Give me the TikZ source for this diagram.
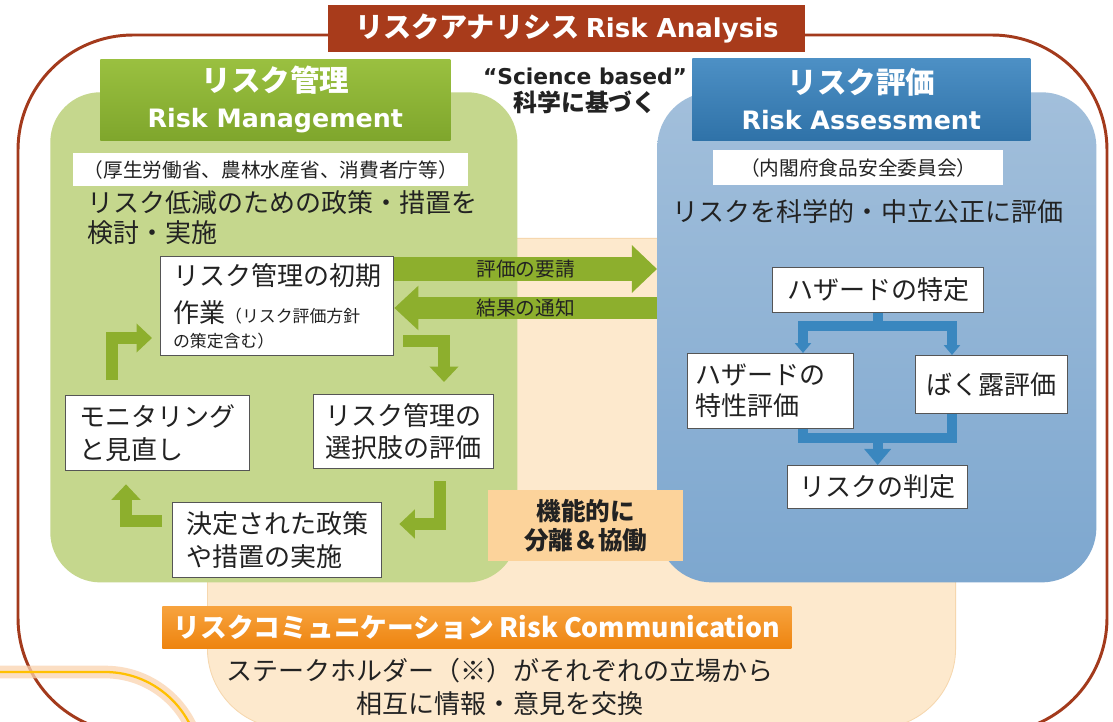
\documentclass[tikz,border=0pt]{standalone}
\usepackage{fontspec}
\setmainfont{Noto Sans CJK JP}
\newfontfamily\lat{DejaVu Sans}
\usetikzlibrary{arrows.meta,calc}
\definecolor{brownT}{HTML}{A83B1B}
\definecolor{brownL}{HTML}{A33A1C}
\definecolor{greenReg}{HTML}{C5D78D}
\definecolor{greenTop}{HTML}{9AC040}
\definecolor{greenBot}{HTML}{7FA62C}
\definecolor{greenArr}{HTML}{8DAF2D}
\definecolor{blueTop}{HTML}{A2BFDB}
\definecolor{blueBot}{HTML}{7DA7CF}
\definecolor{blueHTop}{HTML}{4D90C5}
\definecolor{blueHBot}{HTML}{2F72A8}
\definecolor{blueLine}{HTML}{3A87BF}
\definecolor{peach}{HTML}{FDE9CD}
\definecolor{peachEdge}{HTML}{F6D7AE}
\definecolor{peachDark}{HTML}{FCD39B}
\definecolor{orTop}{HTML}{F7A33E}
\definecolor{orBot}{HTML}{EE840F}
\definecolor{txt}{HTML}{222222}
\definecolor{boxLine}{HTML}{555555}
\definecolor{glow}{HTML}{FAD3B0}
\definecolor{yel}{HTML}{FFC000}
\tikzset{
  wbox/.style={draw=boxLine, line width=0.9pt, fill=white, inner sep=0pt, text=txt, anchor=north west},
  region/.style={inner sep=0pt, anchor=north west},
  garrowL/.style={draw=greenArr, line width=17.1pt, -{Triangle[width=32.7pt,length=17.8pt]}},
  garrowR/.style={draw=greenArr, line width=15.6pt, -{Triangle[width=30.6pt,length=17.1pt]}},
  gsmall/.style={draw=greenArr, line width=8.5pt, -{Triangle[width=20pt,length=11pt]}},
  bline/.style={draw=blueLine, line width=7.1pt},
  btipS/.style={-{Triangle[width=11.4pt,length=7.1pt]}},
  btipB/.style={-{Triangle[width=18.5pt,length=11.4pt]}},
  bodytxt/.style={text=txt, inner sep=0pt, font=\fontsize{18.5}{21.3}\selectfont},
}
\begin{document}
\begin{tikzpicture}[x=0.025cm,y=-0.025cm]
\useasboundingbox (0,0) rectangle (1113,722);
\clip (0,0) rectangle (1113,722);
\fill[white] (0,0) rectangle (1113,722);

% outer risk analysis frame
\draw[draw=brownL, line width=2.1pt, rounded corners=81.8pt] (18,35) rectangle (1107,733);

% risk communication area (peach)
\node[region, fill=peach, draw=peachEdge, line width=0.6pt, rounded corners=56.9pt,
  minimum width={748*0.7113pt}, minimum height={490*0.7113pt}] (rc) at (207,238) {};

% risk management region
\node[region, fill=greenReg, rounded corners=35.6pt,
  minimum width={467*0.7113pt}, minimum height={490*0.7113pt}] (rm) at (50,92) {};
% risk assessment region
\node[region, top color=blueTop, bottom color=blueBot, rounded corners=39pt,
  minimum width={439*0.7113pt}, minimum height={490*0.7113pt}] (ra) at (657,92) {};

% title
\node[region, fill=brownT, text=white, minimum width={477*0.7113pt}, minimum height={47*0.7113pt},
  font=\fontsize{20}{24}\selectfont\bfseries] (title) at (328,5)
  {リスクアナリシス {\lat\fontsize{18.5}{24}\selectfont\bfseries Risk Analysis}};

% headers
\node[region, top color=greenTop, bottom color=greenBot, text=white, align=center,
  minimum width={350*0.7113pt}, minimum height={81*0.7113pt},
  font=\fontsize{21}{25.6}\selectfont\bfseries] (rmh) at (100,59)
  {リスク管理\\{\lat\fontsize{18}{25.6}\selectfont\bfseries Risk Management}};
\node[region, top color=blueHTop, bottom color=blueHBot, text=white, align=center,
  minimum width={338*0.7113pt}, minimum height={82*0.7113pt},
  font=\fontsize{21}{25.6}\selectfont\bfseries] (rah) at (692,58)
  {リスク評価\\{\lat\fontsize{18}{25.6}\selectfont\bfseries Risk Assessment}};

% white strips
\node[region, fill=white, text=txt, minimum width={395*0.7113pt}, minimum height={33*0.7113pt},
  font=\fontsize{14}{16}\selectfont] (rms) at (73,153) {（厚生労働省、農林水産省、消費者庁等）};
\node[region, fill=white, text=txt, minimum width={290*0.7113pt}, minimum height={35*0.7113pt},
  font=\fontsize{14}{16}\selectfont] (ras) at (713,150) {（内閣府食品安全委員会）};

% science based
\node[text=txt, align=center, inner sep=0pt, font=\fontsize{17}{19.2}\selectfont\bfseries] (sci) at (585,91)
  {{\lat\fontsize{15.5}{19.2}\selectfont\bfseries “Science based”}\\科学に基づく};

% body texts
\node[bodytxt, anchor=west, align=left] (rmtxt) at (87,218) {リスク低減のための政策・措置を\\検討・実施};
\node[bodytxt] (ratxt) at (868,212) {リスクを科学的・中立公正に評価};

% left cycle boxes
\node[wbox, align=left, minimum width={233*0.7113pt}, minimum height={99*0.7113pt},
  font=\fontsize{18.5}{26.3}\selectfont] (b1) at (160,256)
  {リスク管理の初期\\作業{\fontsize{12}{14}\selectfont （リスク評価方針}\\[-8.5pt]{\fontsize{12}{14}\selectfont の策定含む）}};
\node[wbox, align=left, minimum width={184*0.7113pt}, minimum height={75*0.7113pt},
  font=\fontsize{18.5}{22.8}\selectfont] (b2) at (65,395) {モニタリング\\と見直し};
\node[wbox, align=left, minimum width={180*0.7113pt}, minimum height={74*0.7113pt},
  font=\fontsize{18.5}{22.8}\selectfont] (b3) at (313,394) {リスク管理の\\選択肢の評価};
\node[wbox, align=left, minimum width={209*0.7113pt}, minimum height={75*0.7113pt},
  font=\fontsize{18.5}{24}\selectfont] (b4) at (172,502) {決定された政策\\や措置の実施};

% right assessment boxes
\node[wbox, minimum width={211*0.7113pt}, minimum height={45*0.7113pt},
  font=\fontsize{18.5}{22}\selectfont] (haz) at (772,267) {ハザードの特定};
\node[wbox, align=left, minimum width={166*0.7113pt}, minimum height={75*0.7113pt},
  font=\fontsize{18.5}{22}\selectfont] (chr) at (687,353) {ハザードの\hspace*{14pt}\\特性評価};
\node[wbox, minimum width={152*0.7113pt}, minimum height={58*0.7113pt},
  font=\fontsize{18.5}{22}\selectfont] (expo) at (915,355) {ばく露評価};
\node[wbox, minimum width={180*0.7113pt}, minimum height={43*0.7113pt},
  font=\fontsize{18.5}{22}\selectfont] (jud) at (787,465) {リスクの判定};

% separation & cooperation box
\node[region, fill=peachDark, text=txt, align=center, minimum width={195*0.7113pt}, minimum height={71*0.7113pt},
  font=\fontsize{17.5}{20.6}\selectfont\bfseries] (sep) at (488,490) {機能的に\\分離＆協働};

% risk communication band
\node[region, top color=orTop, bottom color=orBot, text=white,
  minimum width={629*0.7113pt}, minimum height={42*0.7113pt},
  font=\fontsize{19}{22}\selectfont\bfseries] (rcb) at (162,606)
  {リスクコミュニケーション Risk Communication};
\node[text=txt, align=center, inner sep=0pt, font=\fontsize{18.5}{23.5}\selectfont] (rct) at (500,687)
  {ステークホルダー（※）がそれぞれの立場から\\相互に情報・意見を交換};

% helper coordinates
\coordinate (yreq) at (0,269);
\coordinate (yres) at (0,308);
\coordinate (yA) at (0,338);
\coordinate (yB) at (0,341);
\coordinate (yC) at (0,524);
\coordinate (yD) at (0,521);
\coordinate (xl) at (803,0);
\coordinate (xr) at (952,0);
\coordinate (ytop) at (0,326);
\coordinate (ybot) at (0,438);

% big arrows between management and assessment
\draw[garrowL] (b1.east |- yreq) -- (ra.west |- yreq)
  node[midway, text=txt, inner sep=0pt, font=\fontsize{14}{16}\selectfont] (lreq) {評価の要請};
\draw[garrowR] (ra.west |- yres) -- (b1.east |- yres)
  node[midway, text=txt, inner sep=0pt, font=\fontsize{14}{16}\selectfont] (lres) {結果の通知};

% small cycle arrows
\draw[gsmall] ($(b2.north west)+(47,-15)$) |- ($(b1.west |- yA)+(-8,0)$);
\draw[gsmall] ($(b1.east |- yB)+(9,0)$) -| ($(b3.north west)+(131,-12)$);
\draw[gsmall] ($(b3.south west)+(127,12)$) |- ($(b4.east |- yC)+(17,0)$);
\draw[gsmall] ($(b4.west |- yD)+(-10,0)$) -| ($(b2.south west)+(61,13)$);

% blue flow connectors
\draw[bline] (haz.south) -- (haz.south |- ytop);
\draw[bline, btipS] (haz.south |- ytop) -| (chr.north -| xl);
\draw[bline, btipS] (haz.south |- ytop) -| (expo.north -| xr);
\draw[bline] (chr.south -| xl) -- (xl |- ybot) -- (xr |- ybot) -- (expo.south -| xr);
\draw[bline, btipB] (jud.north |- ybot) -- (jud.north);

% glowing yellow curve (bottom left)
\draw[glow, line width=9pt, opacity=0.75, rounded corners=67.6pt] (-10,672) -- (200,672) -- (200,800);
\draw[yel, line width=1.6pt, rounded corners=67.6pt] (-10,672) -- (200,672) -- (200,800);
\end{tikzpicture}
\end{document}
